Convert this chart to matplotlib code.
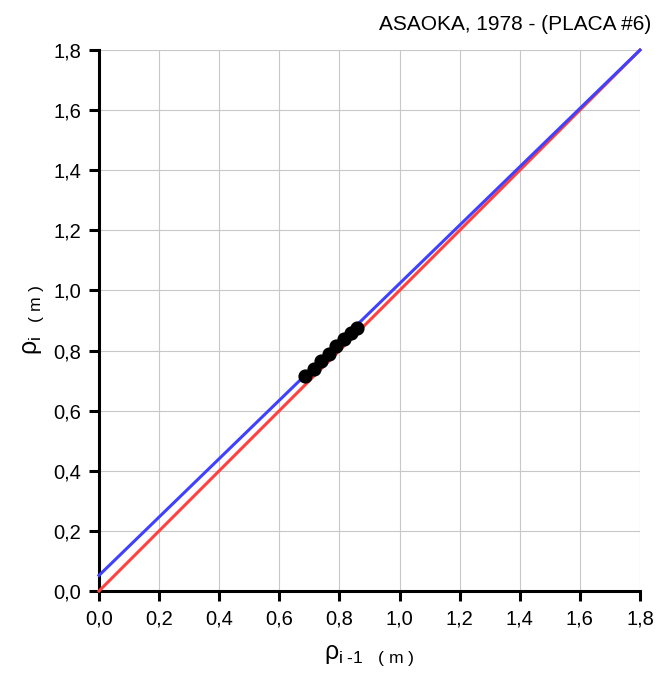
import matplotlib
matplotlib.use("Agg")
import matplotlib.pyplot as plt
import numpy as np

plt.rcParams['font.family'] = ['Liberation Sans', 'DejaVu Sans']
plt.rcParams['mathtext.fontset'] = 'custom'
plt.rcParams['mathtext.rm'] = 'Liberation Sans'
plt.rcParams['mathtext.it'] = 'Liberation Sans'

# Settlement sequence (m): pairs (rho_{i-1}, rho_i)
rho_prev = [0.685, 0.715, 0.740, 0.765, 0.790, 0.815, 0.840, 0.860]
rho_next = [0.715, 0.740, 0.765, 0.790, 0.815, 0.840, 0.860, 0.875]

# Asaoka fit: rho_i = beta0 + beta1 * rho_{i-1}
beta0 = 0.052
beta1 = 0.971

x_ticks = [0.0, 0.2, 0.4, 0.6, 0.8, 1.0, 1.2, 1.4, 1.6, 1.8]
tick_labels = ['0,0', '0,2', '0,4', '0,6', '0,8', '1,0', '1,2', '1,4', '1,6', '1,8']

fig = plt.figure(figsize=(6.6, 6.74), dpi=100)
ax = fig.add_axes([0.15, 0.1231, 0.8197, 0.8027])

xl = np.array([0.0, 1.8])
ax.plot(xl, xl, color='#ff4040', lw=2.2, zorder=3, clip_on=False)
ax.plot(xl, beta0 + beta1 * xl, color='#4040ff', lw=2.2, zorder=4, clip_on=False)
ax.scatter(rho_prev, rho_next, s=85, color='black', zorder=5)

ax.set_xlim(0, 1.8)
ax.set_ylim(0, 1.8)
ax.set_xticks(x_ticks)
ax.set_yticks(x_ticks)
ax.set_xticklabels(tick_labels)
ax.set_yticklabels(tick_labels)
ax.grid(True, color='#c8c8c8', lw=0.8)
ax.set_axisbelow(True)
for s in ['top', 'right']:
    ax.spines[s].set_visible(False)
for s in ['left', 'bottom']:
    ax.spines[s].set_linewidth(2.2)
ax.tick_params(direction='out', length=7, width=2.2, labelsize=14.5, pad=6)

ax.set_xlabel(r'$\rho_{\text{i -1}}\ \ _{\text{( m )}}$', fontsize=18, labelpad=11)
ax.set_ylabel(r'$\rho_{\text{i}}\ \ _{\text{( m )}}$', fontsize=18, labelpad=5)

fig.text(0.986, 0.963, 'ASAOKA, 1978 - (PLACA #6)', ha='right', va='center', fontsize=15)

fig.savefig('out.png', dpi=100)
